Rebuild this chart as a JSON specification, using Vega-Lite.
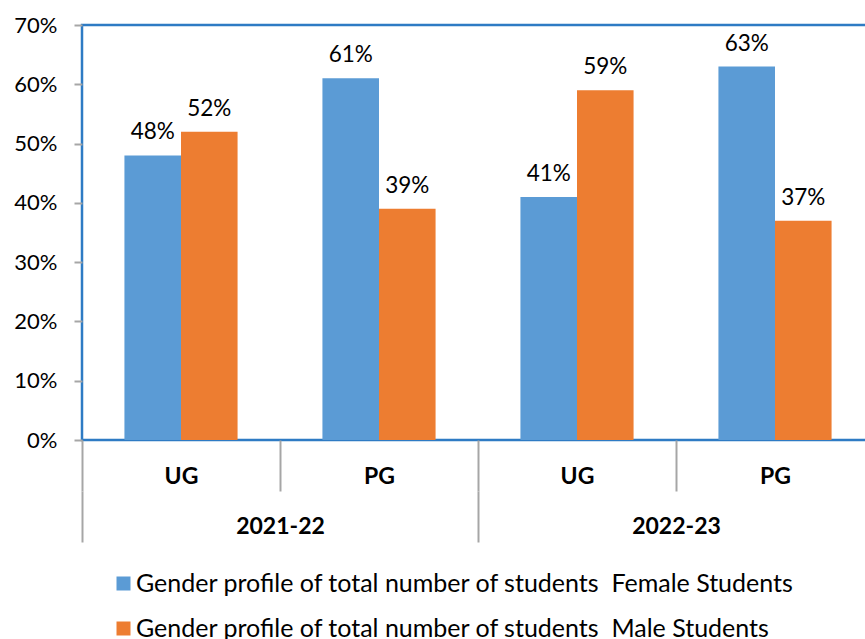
{
  "$schema": "https://vega.github.io/schema/vega-lite/v6.json",
  "width": 792,
  "height": 415,
  "autosize": {"type": "none"},
  "padding": {"left": 82, "top": 25, "right": 0, "bottom": 199},
  "config": {"view": {"stroke": "#2e7bc4", "strokeWidth": 2.5}, "font": "Lato"},
  "data": {
    "values": [
      {"year": "2021-22", "group": "2021-22 UG", "gender": "Gender profile of total number of students\u00a0 Female Students", "value": 0.48},
      {"year": "2021-22", "group": "2021-22 UG", "gender": "Gender profile of total number of students\u00a0 Male Students", "value": 0.52},
      {"year": "2021-22", "group": "2021-22 PG", "gender": "Gender profile of total number of students\u00a0 Female Students", "value": 0.61},
      {"year": "2021-22", "group": "2021-22 PG", "gender": "Gender profile of total number of students\u00a0 Male Students", "value": 0.39},
      {"year": "2022-23", "group": "2022-23 UG", "gender": "Gender profile of total number of students\u00a0 Female Students", "value": 0.41},
      {"year": "2022-23", "group": "2022-23 UG", "gender": "Gender profile of total number of students\u00a0 Male Students", "value": 0.59},
      {"year": "2022-23", "group": "2022-23 PG", "gender": "Gender profile of total number of students\u00a0 Female Students", "value": 0.63},
      {"year": "2022-23", "group": "2022-23 PG", "gender": "Gender profile of total number of students\u00a0 Male Students", "value": 0.37}
    ]
  },
  "layer": [
    {
      "layer": [
        {
          "mark": {"type": "bar"},
          "encoding": {
            "x": {
              "field": "group", "type": "nominal", "sort": null,
              "scale": {"paddingInner": 0, "paddingOuter": 0},
              "axis": {
                "title": null, "labelExpr": "split(datum.value, ' ')[1]", "labelAngle": 0,
                "labelFont": "Lato", "labelFontWeight": "bold", "labelFontSize": 23, "labelColor": "black",
                "domain": false, "ticks": true, "tickBand": "extent", "tickSize": 51,
                "tickColor": "#a6a6a6", "tickWidth": 2, "labelPadding": -26
              }
            },
            "xOffset": {"field": "gender", "sort": null, "scale": {"paddingInner": 0, "paddingOuter": 0.75}},
            "y": {
              "field": "value", "type": "quantitative",
              "scale": {"domain": [0, 0.7], "nice": false},
              "axis": {
                "title": null, "values": [0, 0.1, 0.2, 0.3, 0.4, 0.5, 0.6, 0.7], "format": ".0%",
                "domain": false, "grid": false, "ticks": true, "tickSize": 8, "tickColor": "#a6a6a6", "tickWidth": 2,
                "labelFont": "Lato", "labelFontSize": 22, "labelColor": "black", "labelPadding": 17
              }
            },
            "color": {
              "field": "gender", "type": "nominal", "sort": null,
              "scale": {"range": ["#5b9bd5", "#ed7d31"]},
              "legend": {
                "title": null, "orient": "none", "legendX": 29, "legendY": 546, "direction": "vertical",
                "symbolType": "square", "symbolSize": 196, "symbolStrokeWidth": 0, "labelFont": "Lato",
                "labelFontSize": 25, "labelColor": "black", "labelLimit": 0, "rowPadding": 19, "labelOffset": 0
              }
            }
          }
        },
        {
          "mark": {"type": "text", "dy": -16, "baseline": "alphabetic", "fontSize": 22.5, "font": "Lato", "color": "black"},
          "encoding": {
            "x": {"field": "group", "type": "nominal", "sort": null},
            "xOffset": {"field": "gender", "sort": null},
            "y": {"field": "value", "type": "quantitative"},
            "text": {"field": "value", "type": "quantitative", "format": ".0%"}
          }
        }
      ]
    },
    {
      "mark": {"type": "rule", "opacity": 0},
      "encoding": {
        "x": {
          "field": "year", "type": "nominal", "sort": null,
          "scale": {"paddingInner": 0, "paddingOuter": 0},
          "axis": {
            "orient": "bottom", "offset": 51, "title": null, "labelAngle": 0,
            "labelFont": "Lato", "labelFontWeight": "bold", "labelFontSize": 23, "labelColor": "black",
            "domain": false, "ticks": true, "tickBand": "extent", "tickSize": 51,
            "tickColor": "#a6a6a6", "tickWidth": 2, "labelPadding": -27
          }
        }
      }
    }
  ],
  "resolve": {"scale": {"x": "independent"}}
}
